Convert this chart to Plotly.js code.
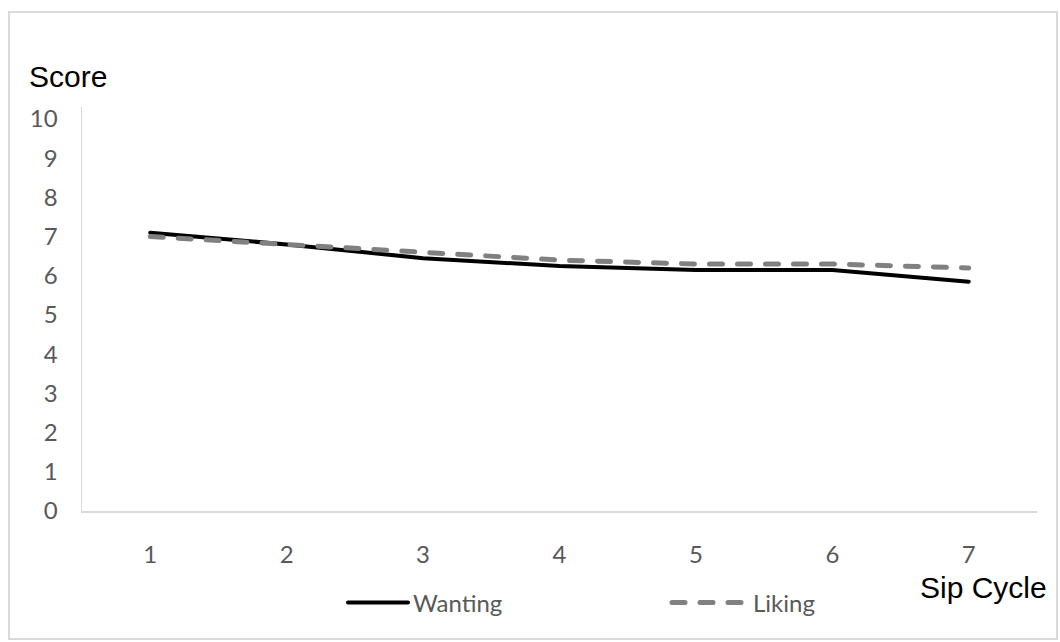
<!DOCTYPE html>
<html>
<head>
<meta charset="utf-8">
<script src="https://cdn.plot.ly/plotly-3.0.1.min.js"></script>
<style>
  html, body { margin: 0; padding: 0; background: #ffffff; }
  #chart { width: 1060px; height: 642px; }
  path.js-line { stroke-linecap: round; }
  .legendlines path { stroke-linecap: round; }
</style>
</head>
<body>
<div id="chart"></div>
<script>
// Data
var sipCycles = [1, 2, 3, 4, 5, 6, 7];
var tickLabels = ["1", "2", "3", "4", "5", "6", "7"];
var wanting = [7.1, 6.8, 6.45, 6.25, 6.15, 6.15, 5.85];
var liking = [7.0, 6.8, 6.6, 6.4, 6.3, 6.3, 6.2];
var yTicks = [0, 1, 2, 3, 4, 5, 6, 7, 8, 9, 10];

// Layout geometry (pixels)
var W = 1060, H = 642;
var L = 82, R = 1037, T = 107, B = 511;
var pw = R - L, ph = B - T;
function px(x) { return (x - L) / pw; }
function py(y) { return (B - y) / ph; }

var tickFont = { family: "Lato, 'Open Sans', sans-serif", size: 24, color: "#595959" };

var traces = [
  {
    x: sipCycles, y: wanting, type: "scatter", mode: "lines", name: "Wanting",
    line: { color: "#000000", width: 4 }, legend: "legend"
  },
  {
    x: sipCycles, y: liking, type: "scatter", mode: "lines", name: "Liking",
    line: { color: "#808080", width: 5, dash: "13px,15px" }, legend: "legend2"
  }
];

var layout = {
  width: W, height: H,
  margin: { l: L, r: W - R, t: T, b: H - B, autoexpand: false },
  paper_bgcolor: "#ffffff",
  plot_bgcolor: "#ffffff",
  showlegend: true,
  legend: {
    orientation: "h",
    x: px(343), xanchor: "left",
    y: py(603), yanchor: "middle",
    font: tickFont,
    itemwidth: 60,
    bgcolor: "rgba(0,0,0,0)"
  },
  legend2: {
    orientation: "h",
    x: px(667), xanchor: "left",
    y: py(603), yanchor: "middle",
    font: tickFont,
    itemwidth: 76,
    bgcolor: "rgba(0,0,0,0)"
  },
  xaxis: {
    range: [0.5, 7.5],
    tickmode: "array", tickvals: sipCycles, ticktext: tickLabels,
    showgrid: false, zeroline: false,
    showline: true, linecolor: "#d9d9d9", linewidth: 1.5,
    ticks: "", tickfont: tickFont,
    ticklabelstandoff: 22,
    fixedrange: true
  },
  yaxis: {
    range: [0, 10 + 12 * 10 / (ph - 12)],
    tickmode: "array", tickvals: yTicks,
    showgrid: false, zeroline: false,
    showline: true, linecolor: "#d9d9d9", linewidth: 1.5,
    ticks: "", tickfont: tickFont,
    ticklabelstandoff: 18,
    fixedrange: true
  },
  annotations: [
    {
      text: "Score", xref: "paper", yref: "paper",
      x: px(27), y: py(77), xanchor: "left", yanchor: "middle",
      showarrow: false,
      font: { family: "'Liberation Sans', Arial, sans-serif", size: 30, color: "#000000" }
    },
    {
      text: "Sip Cycle", xref: "paper", yref: "paper",
      x: px(1049), y: py(587), xanchor: "right", yanchor: "middle",
      showarrow: false,
      font: { family: "'Liberation Sans', Arial, sans-serif", size: 30, color: "#000000" }
    }
  ],
  shapes: [
    {
      type: "rect", xref: "paper", yref: "paper",
      x0: px(9), x1: px(1057), y0: py(639), y1: py(12),
      line: { color: "#d9d9d9", width: 2 },
      fillcolor: "rgba(0,0,0,0)", layer: "below"
    }
  ]
};

Plotly.newPlot("chart", traces, layout, { displayModeBar: false, staticPlot: true });
</script>
</body>
</html>
